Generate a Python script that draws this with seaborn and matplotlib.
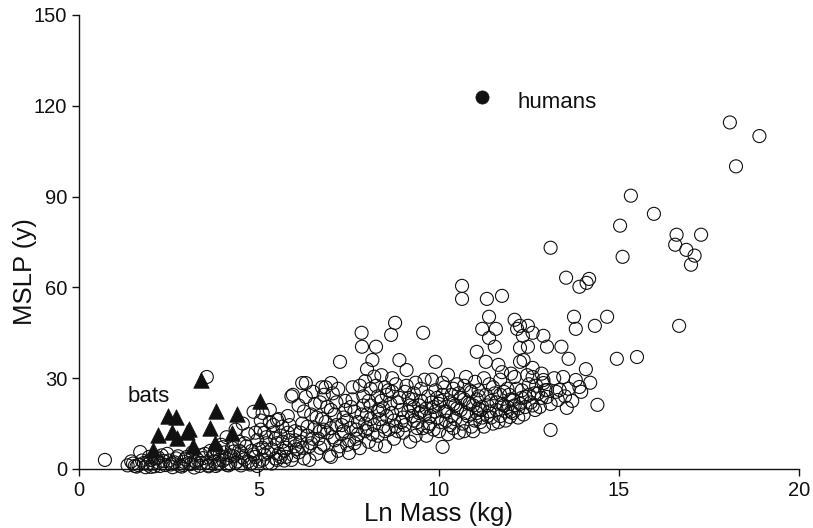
import matplotlib
matplotlib.use("Agg")
import matplotlib.pyplot as plt
import seaborn as sns
import pandas as pd

# Mammals (open circles): Ln Mass (kg) vs MSLP (y)
mammal_x = [
    0.72, 1.35, 1.5, 1.6, 1.7, 1.8, 1.9, 2.0, 2.1, 2.2, 2.3, 2.4, 2.5, 2.6, 2.7, 2.8, 2.9, 3.0, 3.1, 3.2,
    3.3, 3.4, 3.5, 3.55, 3.6, 3.7, 3.75, 3.8, 3.85, 3.9, 3.95, 4.0, 4.05, 4.1, 4.1, 4.2, 4.25, 4.3, 4.35, 4.4,
    4.45, 4.5, 4.55, 4.6, 4.65, 4.7, 4.75, 4.8, 4.85, 4.9, 4.95, 5.0, 5.05, 5.1, 5.1, 5.15, 5.2, 5.25, 5.3, 5.35,
    5.4, 5.45, 5.5, 5.55, 5.6, 5.65, 5.7, 5.75, 5.8, 5.85, 5.9, 5.95, 6.0, 6.05, 6.1, 6.15, 6.2, 6.25, 6.3, 6.35,
    6.4, 6.45, 6.5, 6.55, 6.6, 6.65, 6.7, 6.75, 6.8, 6.85, 6.9, 6.95, 7.0, 7.05, 7.1, 7.15, 7.2, 7.25, 7.3, 7.35,
    7.4, 7.45, 7.5, 7.55, 7.6, 7.65, 7.7, 7.75, 7.8, 7.85, 7.86, 7.9, 7.95, 8.0, 8.0, 8.05, 8.1, 8.15, 8.2, 8.25,
    8.25, 8.3, 8.35, 8.4, 8.45, 8.5, 8.55, 8.6, 8.67, 8.7, 8.75, 8.78, 8.8, 8.85, 8.9, 8.95, 9.0, 9.05, 9.1, 9.15,
    9.2, 9.25, 9.3, 9.35, 9.4, 9.45, 9.5, 9.56, 9.6, 9.65, 9.7, 9.75, 9.8, 9.85, 9.9, 9.95, 10.0, 10.05, 10.1, 10.15,
    10.2, 10.25, 10.3, 10.35, 10.4, 10.45, 10.5, 10.55, 10.6, 10.64, 10.64, 10.7, 10.75, 10.8, 10.85, 10.9, 10.95, 11.0, 11.05, 11.05,
    11.1, 11.15, 11.2, 11.2, 11.25, 11.3, 11.33, 11.35, 11.39, 11.39, 11.45, 11.5, 11.55, 11.58, 11.6, 11.65, 11.7, 11.75, 11.75, 11.8,
    11.85, 11.9, 11.97, 12.0, 12.06, 12.1, 12.1, 12.17, 12.2, 12.25, 12.25, 12.25, 12.3, 12.33, 12.4, 12.47, 12.47, 12.5, 12.6, 12.6,
    12.6, 12.67, 12.75, 12.9, 12.9, 12.9, 13.0, 13.0, 13.0, 13.1, 13.1, 13.2, 13.3, 13.35, 13.45, 13.4, 13.53, 13.55, 13.6, 13.6,
    13.75, 13.8, 13.8, 13.9, 13.9, 14.08, 14.1, 14.17, 14.33, 14.4, 14.67, 14.94, 15.03, 15.1, 15.33, 15.5, 15.97, 16.56, 16.6, 16.67,
    16.87, 17.0, 17.1, 17.28, 18.08, 18.25, 18.9,
    1.45, 1.55, 1.75, 1.85, 1.95, 2.05, 2.15, 2.25, 2.35, 2.45, 2.55, 2.65, 2.75, 2.85, 2.95, 3.05, 3.15, 3.25, 3.35, 3.45,
    3.55, 3.65, 3.75, 3.8, 3.9, 4.0, 4.15, 4.2, 4.35, 4.45, 4.55, 4.7, 4.85, 4.95, 5.0, 5.1, 5.2, 5.35, 5.45, 5.6,
    5.7, 5.8, 5.9, 6.0, 6.1, 6.2, 6.35, 6.4, 6.5, 6.6, 6.7, 6.8, 6.9, 7.0, 7.05, 7.15, 7.25, 7.35, 7.45, 7.55,
    7.65, 7.75, 7.85, 7.95, 8.05, 8.15, 8.25, 8.35, 8.45, 8.55, 8.65, 8.75, 8.85, 8.95, 9.05, 9.15, 9.25, 9.35, 9.45, 9.55,
    9.65, 9.75, 9.85, 9.95, 10.05, 10.15, 10.25, 10.35, 10.45, 10.55, 10.65, 10.75, 10.85, 10.95, 11.05, 11.15, 11.25, 11.35, 11.45, 11.55,
    11.65, 11.75, 11.85, 11.95, 12.05, 12.15, 12.25, 12.35, 12.45, 12.55, 12.65, 12.8, 12.85, 8.3, 8.5, 8.7, 8.1, 7.95, 9.5, 9.3,
    9.9, 10.1, 10.4, 10.7, 11.1, 11.4, 11.7, 12.0, 12.35,
    6.2, 6.75, 7.0, 5.94, 6.8, 6.3, 5.5, 5.3,
    1.65, 2.0, 2.2, 2.6, 2.9, 3.2, 3.4, 3.6, 3.9, 4.1, 4.3, 4.5, 4.6, 4.8, 4.9, 5.05, 5.15, 5.25, 5.4, 5.5,
    5.55, 5.65, 5.75, 5.85, 6.0, 6.15, 6.25, 6.45, 6.55, 6.7, 6.85, 7.0, 7.1, 7.2, 7.3, 7.4, 7.5, 7.6, 7.7, 7.8,
    7.9, 8.0, 8.1, 8.2, 8.3, 8.4, 8.5, 8.6, 8.7, 8.8, 8.9, 9.0, 9.1, 9.2, 9.3, 9.4, 9.5, 9.6, 9.7, 9.8,
    9.9, 10.0, 10.1, 10.2, 10.3, 10.4, 10.5, 10.6, 10.7, 10.8, 10.9, 11.0, 11.1, 11.2, 11.3, 11.4, 11.5, 11.6, 11.7, 11.8,
    11.9, 12.0, 12.1, 12.2, 12.3, 12.4, 12.5, 12.6, 12.7, 12.85, 12.95, 13.1, 13.25, 13.5, 13.7, 13.95, 14.2,
]
mammal_y = [
    3.0, 1.2, 1.8, 0.8, 5.6, 2.0, 1.5, 3.0, 0.9, 2.2, 4.5, 1.3, 2.8, 1.9, 3.5, 1.1, 2.4, 4.0, 1.6, 0.5,
    3.0, 2.0, 5.0, 30.4, 1.2, 3.8, 2.5, 6.5, 1.5, 4.5, 8.0, 2.8, 5.5, 3.5, 10.5, 1.8, 7.0, 4.2, 13.0, 2.5,
    9.0, 5.5, 15.0, 3.2, 7.5, 11.5, 1.5, 6.0, 18.9, 4.0, 9.5, 2.5, 13.0, 18.5, 7.0, 4.8, 10.5, 2.0, 15.5, 6.5,
    12.0, 3.5, 8.5, 5.0, 11.0, 14.0, 2.8, 7.0, 17.5, 9.5, 24.0, 4.5, 12.5, 6.5, 21.0, 9.0, 15.0, 3.5, 28.4, 11.0,
    7.5, 18.0, 25.5, 13.5, 5.0, 10.0, 22.0, 16.5, 8.0, 27.0, 12.0, 4.5, 19.5, 25.0, 9.5, 14.5, 6.0, 35.4, 11.5, 17.0,
    22.5, 8.0, 5.3, 13.5, 27.0, 19.0, 10.0, 15.5, 6.9, 45.0, 40.4, 24.0, 12.5, 33.0, 18.0, 9.0, 21.0, 36.0, 14.5, 40.4,
    27.5, 11.0, 16.5, 31.0, 20.0, 7.5, 24.5, 13.0, 44.3, 18.5, 10.0, 48.3, 28.0, 22.0, 36.0, 15.5, 12.0, 25.5, 32.7, 19.0,
    9.0, 23.0, 16.0, 28.5, 13.5, 21.0, 26.5, 45.0, 18.0, 11.0, 24.0, 15.0, 29.5, 20.5, 35.4, 17.0, 12.5, 22.5, 7.3, 27.0,
    19.0, 31.1, 14.5, 24.5, 21.5, 16.5, 28.0, 12.0, 19.5, 60.5, 56.2, 23.0, 30.4, 17.5, 26.0, 14.0, 21.0, 28.8, 38.7, 18.5,
    24.0, 15.5, 46.3, 20.5, 30.0, 35.4, 56.2, 17.5, 50.3, 43.3, 22.5, 27.0, 40.4, 46.3, 19.5, 34.4, 24.5, 57.2, 32.0, 21.0,
    16.0, 26.5, 17.2, 23.0, 22.8, 49.3, 30.4, 46.3, 20.0, 47.3, 40.0, 35.4, 26.0, 44.0, 23.8, 47.3, 40.4, 28.0, 45.0, 33.4,
    30.4, 19.5, 25.0, 44.0, 29.4, 28.4, 40.4, 26.1, 23.8, 73.1, 12.9, 30.0, 22.8, 26.1, 30.4, 40.4, 63.2, 20.2, 36.4, 26.5,
    50.3, 46.3, 29.4, 60.2, 27.1, 33.0, 61.5, 62.8, 47.3, 21.2, 50.3, 36.4, 80.4, 70.1, 90.3, 37.0, 84.3, 74.1, 77.4, 47.3,
    72.4, 67.5, 70.5, 77.4, 114.5, 100.0, 110.0,
    2.5, 1.0, 2.8, 0.6, 4.0, 1.8, 3.5, 1.0, 2.6, 5.0, 1.5, 2.2, 4.2, 0.8, 3.2, 1.9, 5.5, 2.4, 1.0, 3.6,
    2.2, 6.0, 4.8, 1.0, 2.0, 7.2, 1.2, 4.5, 2.0, 6.0, 3.8, 2.5, 4.8, 1.0, 6.5, 3.0, 8.5, 1.8, 10.0, 4.0,
    6.0, 12.0, 3.0, 9.5, 5.5, 7.0, 14.0, 3.0, 10.0, 17.0, 7.0, 13.0, 20.5, 4.0, 10.5, 22.0, 7.5, 12.5, 16.0, 20.5,
    8.5, 11.5, 18.0, 15.0, 22.5, 11.5, 8.0, 19.5, 14.0, 17.5, 21.5, 16.0, 12.5, 19.5, 14.5, 23.5, 17.5, 11.0, 18.5, 13.5,
    20.0, 17.5, 13.0, 23.5, 15.5, 19.0, 11.5, 17.5, 21.0, 25.0, 15.0, 18.5, 21.5, 12.5, 23.0, 19.5, 14.0, 21.0, 17.0, 25.0,
    15.5, 21.5, 19.0, 24.5, 18.5, 26.5, 21.5, 18.0, 31.0, 22.0, 25.0, 20.5, 31.5, 24.0, 27.0, 25.5, 26.5, 29.0, 22.5, 20.5,
    26.0, 24.5, 26.5, 27.5, 26.0, 28.0, 29.5, 31.5, 36.0,
    28.4, 27.0, 28.4, 24.5, 24.5, 23.8, 16.2, 19.5,
    1.3, 0.7, 3.8, 0.6, 1.3, 2.6, 4.6, 0.9, 3.0, 1.4, 5.8, 1.2, 8.5, 2.0, 12.0, 16.0, 12.0, 5.5, 14.5, 3.0,
    16.5, 9.0, 4.0, 14.5, 7.5, 12.0, 19.0, 8.5, 21.5, 12.5, 15.5, 13.5, 18.0, 26.5, 14.5, 19.5, 9.5, 23.0, 13.0, 27.5,
    21.0, 13.5, 16.5, 30.5, 19.0, 22.5, 12.5, 26.0, 30.0, 14.0, 23.5, 17.0, 27.5, 21.0, 25.0, 15.5, 19.0, 29.5, 14.0, 22.0,
    19.0, 21.5, 28.5, 16.0, 22.0, 13.5, 20.0, 23.5, 12.5, 22.0, 25.5, 16.0, 20.0, 17.0, 24.5, 19.0, 15.0, 22.0, 17.5, 25.5,
    20.5, 19.0, 21.0, 17.0, 23.5, 20.5, 24.5, 21.0, 27.5, 23.5, 26.0, 21.5, 25.5, 24.0, 22.5, 25.5, 28.5,
]

# Bats (filled triangles)
bat_x = [2.06, 2.19, 2.47, 2.58, 2.7, 2.72, 3.0, 3.06, 3.17, 3.39, 3.64, 3.78, 3.8, 4.25, 4.39, 5.03]
bat_y = [6.3, 11.2, 17.5, 12.2, 17.2, 10.2, 12.2, 13.2, 7.6, 29.4, 13.6, 8.6, 19.3, 11.9, 18.3, 22.4]

# Humans (filled circle)
human_x = [11.19]
human_y = [123.0]

x_ticks = [0, 5, 10, 15, 20]
y_ticks = [0, 30, 60, 90, 120, 150]

sns.set_style("ticks")
plt.rcParams['font.family'] = ['Liberation Sans', 'DejaVu Sans']

fig = plt.figure(figsize=(8.13, 5.28), dpi=100)
ax = fig.add_axes([79 / 813, 1 - 469 / 528, 720 / 813, (469 - 15) / 528])

mammals = pd.DataFrame({"x": mammal_x, "y": mammal_y})
bats = pd.DataFrame({"x": bat_x, "y": bat_y})
humans = pd.DataFrame({"x": human_x, "y": human_y})

sns.scatterplot(data=mammals, x="x", y="y", ax=ax, marker="o", s=88,
                facecolor="none", edgecolor="#111111", linewidth=0.8, legend=False, zorder=2)
sns.scatterplot(data=bats, x="x", y="y", ax=ax, marker="^", s=125,
                color="#111111", edgecolor="#111111", linewidth=0.5, legend=False, zorder=3)
sns.scatterplot(data=humans, x="x", y="y", ax=ax, marker="o", s=90,
                color="#111111", edgecolor="#111111", linewidth=0.5, legend=False, zorder=3)

ax.text(1.94, 24.1, "bats", fontsize=16, ha="center", va="center", color="#111111")
ax.text(12.17, 121.2, "humans", fontsize=16, ha="left", va="center", color="#111111")

ax.set_xlim(0, 20)
ax.set_ylim(0, 150)
ax.set_xticks(x_ticks)
ax.set_yticks(y_ticks)
ax.tick_params(axis="both", labelsize=14.5, length=5, width=1, colors="#111111", direction="out")
ax.set_xlabel("Ln Mass (kg)", fontsize=18.5, color="#111111", va="baseline")
ax.set_ylabel("MSLP (y)", fontsize=18.5, color="#111111")
ax.xaxis.set_label_coords(0.499, (469 - 521) / 454)
ax.yaxis.set_label_coords((37 - 79) / 720, 0.434)
for side in ["top", "right"]:
    ax.spines[side].set_visible(False)
for side in ["left", "bottom"]:
    ax.spines[side].set_color("#111111")
    ax.spines[side].set_linewidth(1.0)
for coll in ax.collections:
    coll.set_clip_on(False)

fig.savefig("out.png", dpi=100)
